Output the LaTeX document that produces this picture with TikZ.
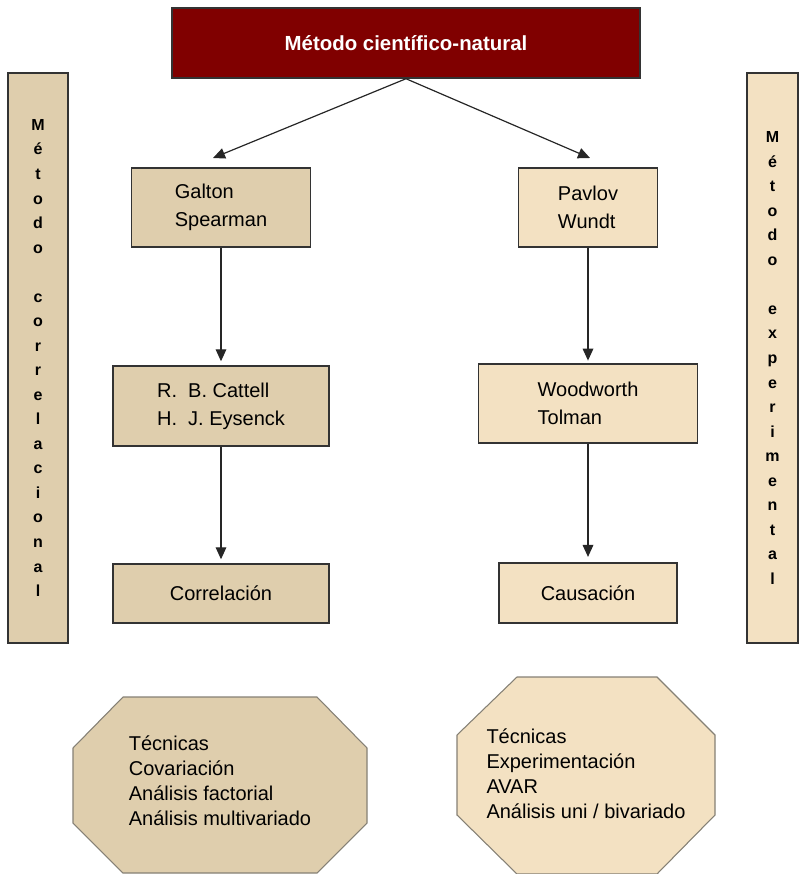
\documentclass[tikz,border=0pt]{standalone}
\usepackage{fontspec}
\setmainfont{Liberation Sans}
\usetikzlibrary{arrows.meta}
\definecolor{titlered}{HTML}{800000}
\definecolor{tanL}{HTML}{DFCEAD}
\definecolor{tanR}{HTML}{F3E1C2}
\definecolor{edgegray}{HTML}{333333}
\definecolor{octedge}{HTML}{858075}
\begin{document}
\begin{tikzpicture}[x=0.75pt,y=-0.75pt,
  box/.style={draw=edgegray, line width=1.1pt, inner sep=0pt, align=left,
    font=\fontsize{15}{21}\selectfont},
  sidebar/.style={draw=edgegray, line width=1.1pt, inner sep=0pt, align=center,
    minimum width=#1, minimum height=427.5pt,
    font=\bfseries\fontsize{12}{18.4}\selectfont},
  octo/.style={draw=octedge, line width=0.8pt},
  octotext/.style={align=left, inner sep=0pt, font=\fontsize{15}{18.75}\selectfont},
  arr/.style={draw=black!85, line width=0.9pt, -{Triangle[length=9pt,width=8pt]}}
]
\useasboundingbox (0,0) rectangle (800,874);

% header
\node[draw=edgegray, line width=1.1pt, fill=titlered, text=white,
      minimum width=351pt, minimum height=52.5pt, inner sep=0pt,
      font=\bfseries\fontsize{15.3}{18}\selectfont] (title) at (406,43)
      {Método científico-natural};

% side bars
\node[sidebar=45pt, fill=tanL] (corr) at (38,358)
  {M\\é\\t\\o\\d\\o\\[18.4pt]c\\o\\r\\r\\e\\l\\a\\c\\i\\o\\n\\a\\l};
\node[sidebar=38.25pt, fill=tanR] (expe) at (772.5,358)
  {M\\é\\t\\o\\d\\o\\[18.4pt]e\\x\\p\\e\\r\\i\\m\\e\\n\\t\\a\\l};

% correlational branch
\node[box, fill=tanL, minimum width=134.25pt, minimum height=59.25pt] (galton) at (221,207.5)
  {Galton\\Spearman};
\node[box, fill=tanL, minimum width=162pt, minimum height=60pt] (cattell) at (221,406)
  {R.\ \ B. Cattell\\H.\ \ J. Eysenck};
\node[box, fill=tanL, minimum width=162pt, minimum height=44.25pt] (correl) at (221,593.5)
  {Correlación};

% experimental branch
\node[box, fill=tanR, minimum width=104.25pt, minimum height=59.25pt] (pavlov) at (588,207.5)
  {Pavlov\\Wundt};
\node[box, fill=tanR, minimum width=164.25pt, minimum height=59.25pt] (woodw) at (588,403.5)
  {Woodworth\\Tolman};
\node[box, fill=tanR, minimum width=133.5pt, minimum height=45pt] (causa) at (588,593)
  {Causación};

% connectors
\coordinate (gIn) at (213,158);
\coordinate (pIn) at (590,158);
\draw[arr] (title.south) -- (gIn);
\draw[arr] (title.south) -- (pIn);
\draw[arr, shorten >=3pt] (galton.south) -- (cattell.north);
\draw[arr, shorten >=3pt] (cattell.south) -- (correl.north);
\draw[arr, shorten >=2pt] (pavlov.south) -- (woodw.north);
\draw[arr, shorten >=4pt] (woodw.south) -- (causa.north);

% technique octagons
\draw[octo, fill=tanL] (123,697) -- (317,697) -- (367,748) -- (367,823)
  -- (317,873) -- (123,873) -- (73,823) -- (73,748) -- cycle;
\node[octotext] (tecL) at (220,781)
  {Técnicas\\Covariación\\Análisis factorial\\Análisis multivariado};

\draw[octo, fill=tanR] (517,677) -- (657,677) -- (715,735) -- (715,815)
  -- (657,874) -- (517,874) -- (457,815) -- (457,735) -- cycle;
\node[octotext] (tecR) at (586,774)
  {Técnicas\\Experimentación\\AVAR\\Análisis uni / bivariado};
\end{tikzpicture}
\end{document}
